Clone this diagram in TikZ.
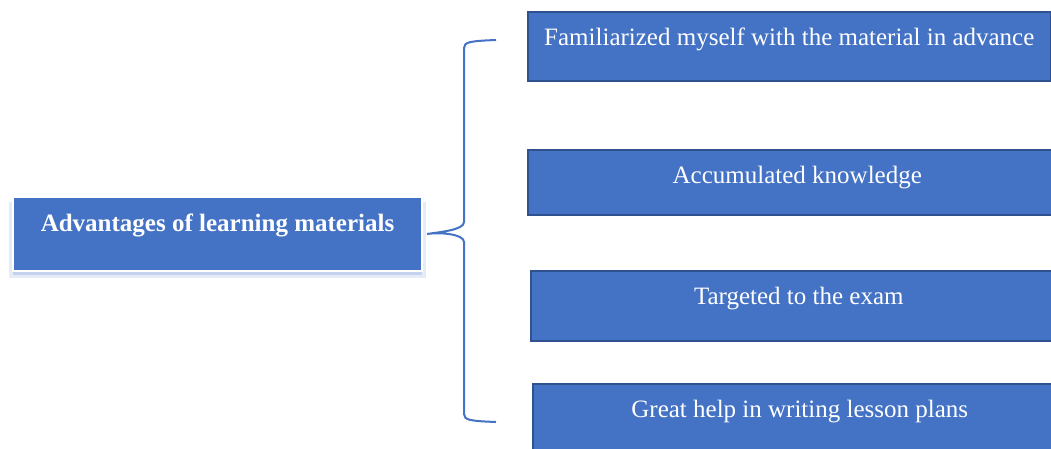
\documentclass[tikz,border=0pt]{standalone}
\usepackage{fontspec}
\setmainfont{Liberation Serif}
\usetikzlibrary{shadows}

\definecolor{boxblue}{HTML}{4472C4}
\definecolor{boxedge}{HTML}{2F528F}
\definecolor{shadowblue}{HTML}{9DB3E0}

\tikzset{
  itembox/.style={draw=boxedge, line width=1.5pt, fill=boxblue, text=white,
    inner sep=0pt, text height=34pt, anchor=north west,
    font=\fontsize{25}{30}\selectfont},
  mainbox/.style={draw=white, line width=2pt, fill=boxblue, text=white,
    inner sep=0pt, text height=34pt, anchor=north west,
    font=\bfseries\fontsize{25}{30}\selectfont,
    drop shadow={shadow xshift=0pt, shadow yshift=-6pt, shadow scale=1.02, fill=shadowblue, opacity=0.25},
    drop shadow={shadow xshift=0pt, shadow yshift=-4pt, fill=shadowblue, opacity=0.45}},
  bracket/.style={draw=boxblue, line width=2pt}
}

\begin{document}
\begin{tikzpicture}[x=1pt, y=-1pt]
    \useasboundingbox (0,0) rectangle (1051,448);
    \clip (0,0) rectangle (1051,448);

    % main box on the left
    \node[mainbox, minimum width=409pt, text depth=40pt] (adv) at (12,196) {Advantages of learning materials};

    % four boxes on the right
    \node[itembox, minimum width=523pt, text depth=35pt] (fam) at (527,11) {Familiarized myself with the material in advance};
    \node[itembox, minimum width=539pt, text depth=31pt] (acc) at (527,149) {Accumulated knowledge};
    \node[itembox, minimum width=536pt, text depth=36pt] (tar) at (530,270) {Targeted to the exam};
    \node[itembox, minimum width=534pt, text depth=36pt] (les) at (532,383) {Great help in writing lesson plans};

    % the brace
    \coordinate (tip) at ([xshift=4pt]adv.east);
    \coordinate (top) at (496,40);
    \coordinate (bot) at (496,422);
    \draw[bracket] (top) .. controls (470,41) and (464,42) .. (464,48)
        -- (464,222) .. controls (464,230) and (440,232) .. (tip)
        .. controls (440,232) and (464,234) .. (464,242)
        -- (464,414) .. controls (464,420) and (470,421) .. (bot);

\end{tikzpicture}
\end{document}
